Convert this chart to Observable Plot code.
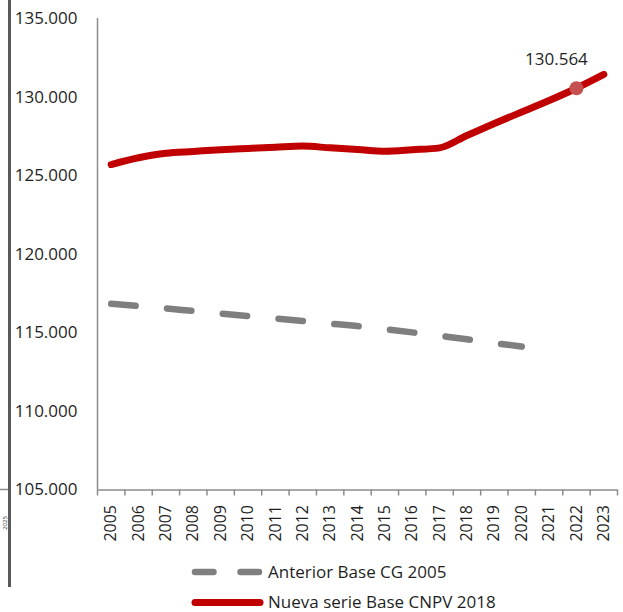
<!DOCTYPE html>
<html>
<head>
<meta charset="utf-8">
<script src="https://cdn.jsdelivr.net/npm/d3@7"></script>
<script src="https://cdn.jsdelivr.net/npm/@observablehq/plot@0.6"></script>
<style>
  html, body { margin: 0; padding: 0; background: #fff; }
  #wrap { position: relative; width: 623px; height: 612px; overflow: hidden; font-family: "Open Sans", sans-serif; }
  #overlay { position: absolute; left: 0; top: 0; pointer-events: none; }
</style>
</head>
<body>
<div id="wrap"></div>
<script>
const years = [2005, 2006, 2007, 2008, 2009, 2010, 2011, 2012, 2013, 2014, 2015, 2016, 2017, 2018, 2019, 2020, 2021, 2022, 2023];
const nuevaSerie = [125710, 126140, 126430, 126540, 126650, 126730, 126810, 126880, 126770, 126670, 126560, 126650, 126770, 127560, 128320, 129050, 129780, 130564, 131440];
const anteriorYears = [2005, 2006, 2007, 2008, 2009, 2010, 2011, 2012, 2013, 2014, 2015, 2016, 2017, 2018, 2019, 2020];
const anteriorBase = [116850, 116700, 116550, 116390, 116230, 116070, 115910, 115750, 115590, 115430, 115240, 115030, 114810, 114590, 114350, 114130];
const yTicks = [105000, 110000, 115000, 120000, 125000, 130000, 135000];
const seriesNames = ["Anterior Base CG 2005", "Nueva serie Base CNPV 2018"];
const highlightYear = 2022;
const highlightLabel = "130.564";

const nuevaData = years.map((y, i) => ({year: y, value: nuevaSerie[i]}));
const anteriorData = anteriorYears.map((y, i) => ({year: y, value: anteriorBase[i]}));
const highlight = nuevaData.filter(d => d.year === highlightYear);
const boundaries = years.map(y => y - 0.5).concat([years[years.length - 1] + 0.5]);

const esLocale = d3.formatLocale({decimal: ",", thousands: ".", grouping: [3], currency: ["$", ""]});
const fmt = esLocale.format(",.0f");

const axisColor = "#8c8c8c";
const textColor = "#1f1f1f";

const chart = Plot.plot({
  width: 623,
  height: 550,
  marginLeft: 97,
  marginRight: 6,
  marginTop: 18,
  marginBottom: 60.5,
  x: {type: "linear", domain: [boundaries[0], boundaries[boundaries.length - 1]]},
  y: {domain: [yTicks[0], yTicks[yTicks.length - 1]]},
  style: {fontFamily: "'Open Sans', sans-serif", fontSize: "17px", color: textColor, background: "transparent", overflow: "visible"},
  marks: [
    Plot.axisY({ticks: yTicks, tickSize: 0, tickPadding: 20, tickFormat: fmt, fontSize: 17, label: null, fill: textColor}),
    Plot.axisX({ticks: boundaries, tickSize: 6, tickFormat: () => "", stroke: axisColor, strokeWidth: 1.5, label: null}),
    Plot.axisX({ticks: years, tickSize: 0, tickPadding: 15, tickRotate: -90, tickFormat: d => String(d), fontSize: 16, label: null, fill: textColor}),
    Plot.ruleX([boundaries[0]], {stroke: axisColor, strokeWidth: 1.5}),
    Plot.ruleY([yTicks[0]], {stroke: axisColor, strokeWidth: 1.5}),
    Plot.line(anteriorData, {x: "year", y: "value", stroke: "#7f7f7f", strokeWidth: 6.5, strokeDasharray: "24.5,31.5", strokeLinecap: "round", curve: "monotone-x"}),
    Plot.line(nuevaData, {x: "year", y: "value", stroke: "#c00000", strokeWidth: 7, strokeLinecap: "round", strokeLinejoin: "round", curve: "monotone-x"}),
    Plot.dot(highlight, {x: "year", y: "value", r: 7, fill: "#c55050", stroke: "none"}),
    Plot.text(highlight, {x: "year", y: "value", text: () => highlightLabel, dx: -20, dy: -29, fontSize: 17, fill: textColor})
  ]
});
chart.style.position = "absolute";
chart.style.left = "0px";
chart.style.top = "0px";
document.getElementById("wrap").appendChild(chart);

// Overlay: frame fragment at left edge and legend
const svg = d3.select("#wrap").append("svg")
  .attr("id", "overlay")
  .attr("width", 623).attr("height", 612);

svg.append("line").attr("x1", 0).attr("x2", 9).attr("y1", 489.5).attr("y2", 489.5)
  .attr("stroke", axisColor).attr("stroke-width", 1.5);
svg.append("line").attr("x1", 9.5).attr("x2", 9.5).attr("y1", 0).attr("y2", 587)
  .attr("stroke", "#595959").attr("stroke-width", 3);
svg.append("text").attr("transform", "translate(6.8,523) rotate(-90)")
  .attr("text-anchor", "middle").attr("font-size", 6).attr("fill", textColor)
  .attr("font-family", "'Open Sans', sans-serif").text("2025");

const legend = [
  {name: seriesNames[0], y: 572, stroke: "#7f7f7f", dash: "18.5,27", width: 6.5},
  {name: seriesNames[1], y: 602.5, stroke: "#c00000", dash: null, width: 7}
];
legend.forEach(l => {
  const ln = svg.append("line").attr("x1", 195).attr("x2", 260).attr("y1", l.y).attr("y2", l.y)
    .attr("stroke", l.stroke).attr("stroke-width", l.width).attr("stroke-linecap", "round");
  if (l.dash) ln.attr("stroke-dasharray", l.dash);
  svg.append("text").attr("x", 268).attr("y", l.y).attr("dy", "0.35em")
    .attr("font-size", 17).attr("fill", textColor)
    .attr("font-family", "'Open Sans', sans-serif").text(l.name);
});
</script>
</body>
</html>
